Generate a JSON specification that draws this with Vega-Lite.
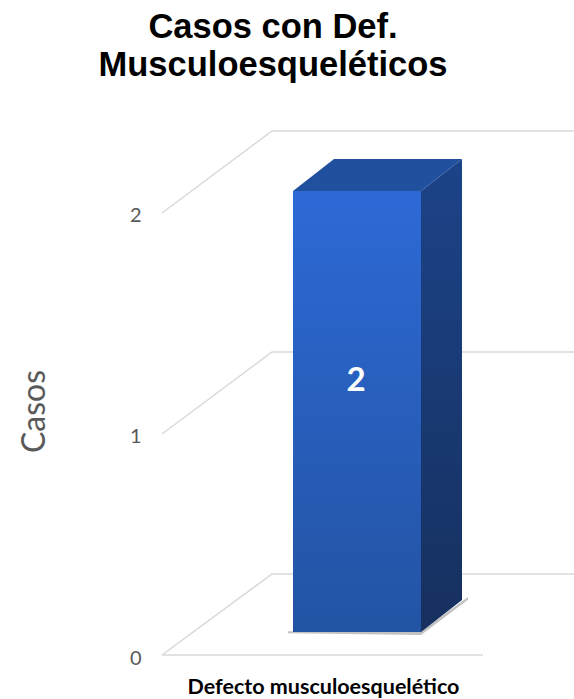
{
"$schema":"https://vega.github.io/schema/vega-lite/v6.json",
"width":412,"height":555,
"autosize":"none",
"padding":{"left":162,"top":100,"right":0,"bottom":44},
"background":"white",
"view":{"stroke":null},
"title":{"text":["Casos con Def.","Musculoesqueléticos"],"font":"Liberation Sans","fontSize":34.5,"fontWeight":"bold","color":"#000000","lineHeight":38,"anchor":"middle","frame":"group","dx":-95,"offset":17},
"datasets":{
"grid":[
{"g":"g0","x":0,"y":0},{"g":"g0","x":110,"y":0.3665},{"g":"g0","x":412,"y":0.3665},
{"g":"g1","x":0,"y":1},{"g":"g1","x":110,"y":1.371},{"g":"g1","x":412,"y":1.371},
{"g":"g2","x":0,"y":2},{"g":"g2","x":110,"y":2.371},{"g":"g2","x":412,"y":2.371},
{"g":"floor","x":0,"y":0},{"g":"floor","x":321,"y":0}
],
"shadow":[
{"x":126,"y":0.108,"y2":0.098},{"x":259,"y":0.108,"y2":0.09},{"x":306,"y":0.262,"y2":0.25}
],
"front":[{"x":131,"x2":259,"y":2.0995,"y2":0.104}],
"side":[{"x":259,"y":2.0995,"y2":0.104},{"x":300,"y":2.244,"y2":0.249}],
"top":[{"x":131,"y":2.0995,"y2":2.0995},{"x":172,"y":2.244,"y2":2.0995},{"x":259,"y":2.244,"y2":2.0995},{"x":300,"y":2.244,"y2":2.244}],
"label":[{"x":194,"y":1.242,"casos":2}]
},
"encoding":{
"x":{"field":"x","type":"quantitative","scale":{"domain":[0,412],"nice":false,"zero":false},
"axis":{"domain":false,"ticks":false,"labels":false,"grid":false,"title":"Defecto musculoesquelético","titleFont":"Lato","titleFontSize":21.5,"titleFontWeight":"bold","titleColor":"#000000","titleX":161,"titleY":32,"titleBaseline":"middle","titleAnchor":"middle"}},
"y":{"field":"y","type":"quantitative","scale":{"domain":[0,2.5113],"nice":false,"zero":false},
"axis":{"domain":false,"ticks":false,"grid":false,"values":[0,1,2],"format":"d","labelFont":"Lato","labelFontSize":20,"labelColor":"#595959","labelPadding":21,"labelOffset":3,"title":"Casos","titleFont":"Lato","titleFontSize":32,"titleFontWeight":"normal","titleColor":"#595959","titleX":-128,"titleY":311,"titleAnchor":"middle","titleBaseline":"middle"}}
},
"layer":[
{"data":{"name":"grid"},"mark":{"type":"line","color":"#d9d9d9","strokeWidth":1.5},"encoding":{"detail":{"field":"g"}}},
{"data":{"name":"shadow"},"mark":{"type":"area","color":"#9a9a9a","opacity":0.6},"encoding":{"y2":{"field":"y2"}}},
{"data":{"name":"side"},"mark":{"type":"area","color":{"gradient":"linear","x1":0,"y1":0,"x2":0,"y2":1,"stops":[{"offset":0,"color":"#1c4388"},{"offset":1,"color":"#16305f"}]}},"encoding":{"y2":{"field":"y2"}}},
{"data":{"name":"top"},"mark":{"type":"area","color":"#20509e"},"encoding":{"y2":{"field":"y2"}}},
{"data":{"name":"front"},"mark":{"type":"rect","color":{"gradient":"linear","x1":0,"y1":0,"x2":0,"y2":1,"stops":[{"offset":0,"color":"#2d6ad6"},{"offset":1,"color":"#2353a3"}]}},"encoding":{"x2":{"field":"x2"},"y2":{"field":"y2"}}},
{"data":{"name":"label"},"mark":{"type":"text","font":"Lato","fontSize":33,"fontWeight":"bold","color":"#ffffff","align":"center","baseline":"middle"},"encoding":{"text":{"field":"casos","type":"quantitative"}}}
]
}
